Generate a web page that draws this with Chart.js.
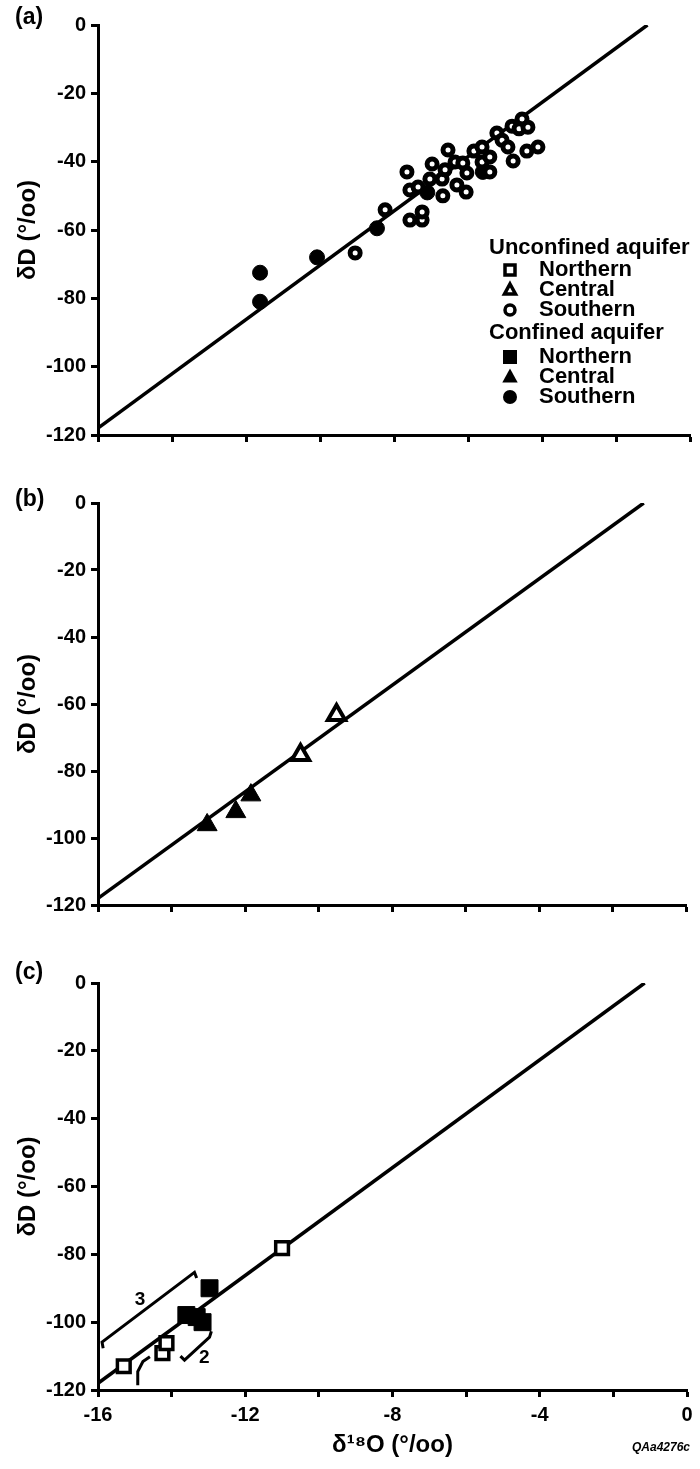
<!DOCTYPE html>
<html>
<head>
<meta charset="utf-8">
<script src="https://cdn.jsdelivr.net/npm/chart.js"></script>
<style>
  body { margin: 0; background: #fff; }
  .panel { position: absolute; left: 0; }
</style>
</head>
<body>
<div class="panel" style="top:0px"><canvas id="chartA" width="700" height="470"></canvas></div>
<div class="panel" style="top:470px"><canvas id="chartB" width="700" height="480"></canvas></div>
<div class="panel" style="top:950px"><canvas id="chartC" width="700" height="519"></canvas></div>
<script>
// ============================= DATA
// meteoric water line
let mwlX = [-16, -1.15];
let mwlY = [-118, 0];

// (a) southern area
let unconfSouthX = [-9.05, -8.24, -7.65, -7.57, -7.35, -7.03, -6.97, -6.70, -6.54, -6.68, -7.57, -7.24,
                    -7.24, -6.35, -6.05, -6.30, -6.03, -6.14, -5.84, -5.62, -5.62, -5.41, -5.41, -5.22,
                    -5.08, -4.92, -4.78, -4.81, -4.54, -4.62, -4.38, -4.41, -4.11, -6.62];
let unconfSouthY = [-66.7, -54.1, -43.0, -48.3, -47.4, -45.1, -40.7, -45.1, -36.6, -50.0, -57.1, -57.1,
                    -54.7, -40.1, -48.9, -46.8, -43.3, -40.4, -36.9, -35.7, -40.1, -43.0, -38.6, -31.6,
                    -33.7, -35.7, -39.8, -29.6, -27.5, -30.4, -29.9, -36.9, -35.7, -42.4];
let confSouthX = [-11.62, -11.62, -10.08, -8.46, -7.10, -5.60];
let confSouthY = [-72.5, -81.0, -68.0, -59.5, -49.0, -43.0];

// (b) central area
let unconfCentralX = [-10.49, -9.51];
let unconfCentralY = [-75.2, -63.3];
let confCentralX = [-13.03, -12.25, -11.84];
let confCentralY = [-96.1, -92.2, -87.2];

// (c) northern area
let unconfNorthX = [-15.30, -14.25, -14.14, -11.00];
let unconfNorthY = [-113.0, -109.1, -106.2, -78.2];
let confNorthX = [-13.60, -13.32, -13.16, -12.97];
let confNorthY = [-97.9, -98.5, -100.0, -90.0];

// groups marked in (c)
let group1X = [-14.92, -14.92, -14.78, -14.59];
let group1Y = [-118.6, -114.6, -111.6, -110.2];
let group2X = [-13.76, -13.65, -12.97, -12.92];
let group2Y = [-110.0, -111.2, -104.4, -102.7];
let group3X = [-15.86, -15.89, -13.38, -13.32];
let group3Y = [-107.7, -105.9, -85.3, -87.0];
let groupLabelX = [-13.11, -14.86];
let groupLabelY = [-110.6, -93.5];
let groupLabelText = ['2', '3'];

let yTicks = [0, -20, -40, -60, -80, -100, -120];
let xTickLabels = [-16, -12, -8, -4, 0];

// ============================= HELPERS
function pts(xs, ys) {
    return xs.map((x, i) => ({ x: x, y: ys[i] }));
}

Chart.defaults.font.family = "'Liberation Sans', Arial, sans-serif";
Chart.defaults.font.weight = 'bold';
Chart.defaults.color = '#000';

function mwlDataset() {
    return {
        type: 'line',
        data: pts(mwlX, mwlY),
        borderColor: '#000',
        borderWidth: 3.5,
        pointRadius: 0,
        order: 10
    };
}

function lineDataset(xs, ys) {
    return {
        type: 'line',
        data: pts(xs, ys),
        borderColor: '#000',
        borderWidth: 3,
        pointRadius: 0,
        order: 9
    };
}

function markDataset(xs, ys, style, radius, filled, border) {
    return {
        data: pts(xs, ys),
        pointStyle: style,
        pointRadius: radius,
        pointHoverRadius: radius,
        pointBorderWidth: border,
        borderColor: '#000',
        pointBackgroundColor: filled ? '#000' : '#fff',
        backgroundColor: filled ? '#000' : '#fff',
        order: 0
    };
}

// panel letter + extra texts
function textPlugin(letter, letterY, extra) {
    return {
        id: 'texts' + letter,
        afterDraw(chart) {
            let ctx = chart.ctx;
            ctx.save();
            ctx.fillStyle = '#000';
            ctx.font = "bold 23px 'Liberation Sans', Arial, sans-serif";
            ctx.textBaseline = 'middle';
            ctx.textAlign = 'left';
            ctx.fillText('(' + letter + ')', 15, letterY);
            if (extra) extra(chart, ctx);
            ctx.restore();
        }
    };
}

function symbol(ctx, kind, x, y, s, filled) {
    ctx.beginPath();
    if (kind === 'square') {
        ctx.rect(x - s / 2, y - s / 2, s, s);
    } else if (kind === 'triangle') {
        ctx.moveTo(x, y - s * 0.6);
        ctx.lineTo(x + s * 0.55, y + s * 0.4);
        ctx.lineTo(x - s * 0.55, y + s * 0.4);
        ctx.closePath();
    } else {
        ctx.arc(x, y, s / 2, 0, Math.PI * 2);
    }
    if (filled) {
        ctx.fill();
    } else {
        ctx.lineWidth = 3.5;
        ctx.stroke();
    }
}

function legendA(chart, ctx) {
    ctx.strokeStyle = '#000';
    ctx.font = "bold 22px 'Liberation Sans', Arial, sans-serif";
    ctx.fillText('Unconfined aquifer', 489, 248);
    ctx.fillText('Confined aquifer', 489, 333);
    let names = ['Northern', 'Central', 'Southern'];
    let kinds = ['square', 'triangle', 'circle'];
    for (let i = 0; i < 3; i++) {
        ctx.fillText(names[i], 539, 270 + i * 20);
        symbol(ctx, kinds[i], 510, 270 + i * 20, 10, false);
        ctx.fillText(names[i], 539, 357 + i * 20);
        symbol(ctx, kinds[i], 510, 357 + i * 20, 14, true);
    }
}

function labelsC(chart, ctx) {
    let xs = chart.scales.x, ys = chart.scales.y;
    ctx.font = "bold 19px 'Liberation Sans', Arial, sans-serif";
    ctx.textAlign = 'center';
    for (let i = 0; i < groupLabelText.length; i++) {
        ctx.fillText(groupLabelText[i], xs.getPixelForValue(groupLabelX[i]), ys.getPixelForValue(groupLabelY[i]));
    }
    ctx.font = "italic bold 12px 'Liberation Sans', Arial, sans-serif";
    ctx.textAlign = 'right';
    ctx.fillText('QAa4276c', 690, 498);
}

function makePanel(id, datasets, topPad, xHeight, showX, plugin) {
    let ctx = document.getElementById(id).getContext('2d');
    return new Chart(ctx, {
        type: 'scatter',
        data: { datasets: datasets },
        options: {
            responsive: false,
            animation: false,
            layout: { padding: { left: 0, right: 10, top: topPad, bottom: 0 } },
            plugins: { legend: { display: false }, tooltip: { enabled: false } },
            scales: {
                x: {
                    type: 'linear',
                    min: -16, max: 0,
                    ticks: {
                        stepSize: 2,
                        padding: 6,
                        font: { size: 20, weight: 'bold' },
                        callback: v => (showX && xTickLabels.includes(v)) ? String(v) : ''
                    },
                    grid: { drawOnChartArea: false, drawTicks: true, tickLength: 7, tickWidth: 3, tickColor: '#000' },
                    border: { display: true, width: 3, color: '#000' },
                    title: {
                        display: showX,
                        text: 'δ¹⁸O (°/oo)',
                        font: { size: 24, weight: 'bold' },
                        padding: { bottom: 9 }
                    },
                    afterFit: s => { s.height = xHeight; }
                },
                y: {
                    type: 'linear',
                    min: -120, max: 0,
                    afterBuildTicks: s => { s.ticks = yTicks.map(v => ({ value: v })); },
                    ticks: { padding: 5, font: { size: 20, weight: 'bold' } },
                    grid: { drawOnChartArea: false, drawTicks: true, tickLength: 7, tickWidth: 3, tickColor: '#000' },
                    border: { display: true, width: 3, color: '#000' },
                    title: {
                        display: true,
                        text: 'δD (°/oo)',
                        font: { size: 24, weight: 'bold' },
                        padding: { top: 14 }
                    },
                    afterFit: s => { s.width = 98; }
                }
            }
        },
        plugins: [plugin]
    });
}

// ============================= (a)
makePanel('chartA', [
    markDataset(unconfSouthX, unconfSouthY, 'circle', 5, false, 5),
    markDataset(confSouthX, confSouthY, 'circle', 7.5, true, 1),
    mwlDataset()
], 25, 35, false, textPlugin('a', 18, legendA));

// ============================= (b)
makePanel('chartB', [
    markDataset(unconfCentralX, unconfCentralY, 'triangle', 10, false, 4),
    markDataset(confCentralX, confCentralY, 'triangle', 11.5, true, 1),
    mwlDataset()
], 33, 45, false, textPlugin('b', 30));

// ============================= (c)
makePanel('chartC', [
    markDataset(unconfNorthX, unconfNorthY, 'rect', 9, false, 3.5),
    markDataset(confNorthX, confNorthY, 'rect', 12, true, 1),
    lineDataset(group1X, group1Y),
    lineDataset(group2X, group2Y),
    lineDataset(group3X, group3Y),
    mwlDataset()
], 33, 79, true, textPlugin('c', 23, labelsC));
</script>
</body>
</html>
